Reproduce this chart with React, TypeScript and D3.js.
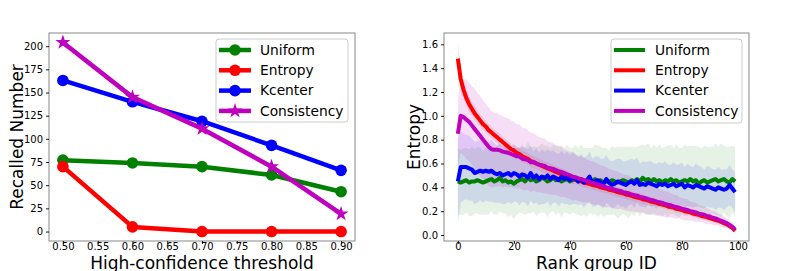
import React from 'react';
import * as d3 from 'd3';

// left panel: recalled number vs threshold
const thresholds = [0.5, 0.6, 0.7, 0.8, 0.9];
const recallUniform = [77, 74, 70, 61, 43];
const recallEntropy = [70, 5, 0, 0, 0];
const recallKcenter = [163, 140, 119, 93, 66];
const recallConsistency = [204, 145, 111, 70, 19];
const thresholdTicks = [0.5, 0.55, 0.6, 0.65, 0.7, 0.75, 0.8, 0.85, 0.9];
const recallTicks = [0, 25, 50, 75, 100, 125, 150, 175, 200];

// right panel: mean entropy per rank group (+ std band)
const uniformMean = [
  0.45, 0.44, 0.45, 0.46, 0.44, 0.45, 0.45, 0.46, 0.45, 0.44,
  0.45, 0.46, 0.47, 0.45, 0.46, 0.48, 0.45, 0.46, 0.44, 0.45,
  0.43, 0.45, 0.46, 0.47, 0.45, 0.48, 0.46, 0.47, 0.45, 0.46,
  0.48, 0.47, 0.45, 0.46, 0.48, 0.46, 0.47, 0.45, 0.46, 0.47,
  0.45, 0.46, 0.47, 0.45, 0.46, 0.45, 0.44, 0.46, 0.45, 0.47,
  0.45, 0.46, 0.44, 0.45, 0.44, 0.46, 0.45, 0.44, 0.45, 0.46,
  0.45, 0.44, 0.46, 0.45, 0.47, 0.45, 0.48, 0.46, 0.47, 0.45,
  0.47, 0.45, 0.46, 0.44, 0.46, 0.45, 0.47, 0.45, 0.46, 0.44,
  0.45, 0.46, 0.45, 0.47, 0.45, 0.46, 0.43, 0.45, 0.46, 0.44,
  0.45, 0.46, 0.47, 0.45, 0.46, 0.47, 0.45, 0.44, 0.47, 0.45,
];
const uniformStd = [
  0.28, 0.27, 0.28, 0.27, 0.28, 0.29, 0.27, 0.28, 0.28, 0.27,
  0.28, 0.29, 0.27, 0.28, 0.29, 0.28, 0.27, 0.28, 0.29, 0.28,
  0.30, 0.28, 0.27, 0.29, 0.28, 0.30, 0.28, 0.27, 0.29, 0.28,
  0.29, 0.28, 0.30, 0.27, 0.28, 0.29, 0.28, 0.30, 0.27, 0.29,
  0.28, 0.27, 0.29, 0.28, 0.30, 0.28, 0.29, 0.27, 0.28, 0.29,
  0.30, 0.28, 0.29, 0.28, 0.27, 0.29, 0.28, 0.30, 0.29, 0.28,
  0.29, 0.30, 0.28, 0.29, 0.27, 0.30, 0.28, 0.29, 0.30, 0.28,
  0.29, 0.28, 0.30, 0.29, 0.28, 0.30, 0.29, 0.28, 0.30, 0.29,
  0.28, 0.30, 0.29, 0.28, 0.30, 0.29, 0.31, 0.28, 0.29, 0.30,
  0.29, 0.28, 0.30, 0.29, 0.31, 0.28, 0.29, 0.30, 0.28, 0.29,
];
const entropyMean = [
  1.48, 1.31, 1.22, 1.15, 1.10, 1.06, 1.02, 0.99, 0.96, 0.93,
  0.91, 0.88, 0.86, 0.84, 0.82, 0.80, 0.78, 0.76, 0.74, 0.72,
  0.71, 0.69, 0.68, 0.66, 0.65, 0.64, 0.62, 0.61, 0.60, 0.59,
  0.58, 0.57, 0.56, 0.55, 0.54, 0.53, 0.52, 0.51, 0.50, 0.49,
  0.48, 0.47, 0.465, 0.46, 0.45, 0.44, 0.435, 0.43, 0.42, 0.415,
  0.41, 0.40, 0.395, 0.39, 0.38, 0.375, 0.37, 0.36, 0.355, 0.35,
  0.34, 0.335, 0.33, 0.32, 0.315, 0.31, 0.30, 0.295, 0.29, 0.28,
  0.275, 0.27, 0.26, 0.255, 0.25, 0.24, 0.235, 0.23, 0.22, 0.215,
  0.21, 0.20, 0.195, 0.19, 0.18, 0.175, 0.17, 0.16, 0.155, 0.15,
  0.14, 0.135, 0.125, 0.12, 0.11, 0.10, 0.09, 0.075, 0.06, 0.035,
];
const entropyStd = [
  0.14, 0.10, 0.08, 0.07, 0.07, 0.06, 0.06, 0.06, 0.05, 0.05,
  0.05, 0.05, 0.05, 0.05, 0.05, 0.05, 0.05, 0.05, 0.05, 0.05,
  0.05, 0.05, 0.05, 0.05, 0.05, 0.05, 0.05, 0.05, 0.05, 0.05,
  0.05, 0.05, 0.05, 0.05, 0.05, 0.05, 0.05, 0.05, 0.05, 0.05,
  0.04, 0.04, 0.04, 0.04, 0.04, 0.04, 0.04, 0.04, 0.04, 0.04,
  0.04, 0.04, 0.04, 0.04, 0.04, 0.04, 0.04, 0.04, 0.04, 0.04,
  0.04, 0.04, 0.04, 0.04, 0.04, 0.04, 0.04, 0.04, 0.04, 0.04,
  0.03, 0.03, 0.03, 0.03, 0.03, 0.03, 0.03, 0.03, 0.03, 0.03,
  0.03, 0.03, 0.03, 0.03, 0.03, 0.03, 0.03, 0.03, 0.03, 0.03,
  0.02, 0.02, 0.02, 0.02, 0.02, 0.02, 0.02, 0.02, 0.02, 0.02,
];
const kcenterMean = [
  0.45, 0.57, 0.57, 0.57, 0.56, 0.55, 0.52, 0.53, 0.54, 0.53,
  0.54, 0.53, 0.54, 0.52, 0.51, 0.52, 0.50, 0.51, 0.52, 0.50,
  0.52, 0.51, 0.49, 0.51, 0.50, 0.48, 0.52, 0.48, 0.50, 0.47,
  0.49, 0.48, 0.50, 0.47, 0.49, 0.48, 0.46, 0.49, 0.47, 0.48,
  0.46, 0.48, 0.47, 0.45, 0.47, 0.44, 0.46, 0.49, 0.44, 0.45,
  0.46, 0.44, 0.43, 0.47, 0.44, 0.42, 0.43, 0.45, 0.44, 0.43,
  0.42, 0.44, 0.45, 0.43, 0.46, 0.42, 0.43, 0.42, 0.44, 0.43,
  0.42, 0.41, 0.43, 0.42, 0.43, 0.41, 0.42, 0.43, 0.41, 0.42,
  0.43, 0.40, 0.42, 0.41, 0.40, 0.42, 0.41, 0.40, 0.39, 0.41,
  0.40, 0.39, 0.38, 0.40, 0.39, 0.38, 0.39, 0.42, 0.39, 0.36,
];
const kcenterStd = [
  0.36, 0.30, 0.28, 0.27, 0.27, 0.26, 0.26, 0.26, 0.25, 0.26,
  0.25, 0.25, 0.26, 0.25, 0.24, 0.25, 0.24, 0.25, 0.24, 0.24,
  0.24, 0.23, 0.24, 0.23, 0.23, 0.24, 0.23, 0.22, 0.23, 0.22,
  0.23, 0.22, 0.22, 0.23, 0.22, 0.21, 0.22, 0.22, 0.21, 0.22,
  0.21, 0.22, 0.21, 0.20, 0.21, 0.21, 0.20, 0.21, 0.20, 0.21,
  0.20, 0.20, 0.21, 0.20, 0.19, 0.20, 0.20, 0.19, 0.20, 0.19,
  0.20, 0.19, 0.19, 0.20, 0.19, 0.18, 0.19, 0.19, 0.18, 0.19,
  0.18, 0.19, 0.18, 0.18, 0.19, 0.18, 0.17, 0.18, 0.18, 0.17,
  0.18, 0.17, 0.18, 0.17, 0.17, 0.18, 0.17, 0.17, 0.16, 0.17,
  0.17, 0.16, 0.17, 0.17, 0.16, 0.17, 0.16, 0.17, 0.16, 0.17,
];
const consistencyMean = [
  0.85, 1.00, 0.99, 0.97, 0.95, 0.92, 0.89, 0.86, 0.83, 0.80,
  0.77, 0.74, 0.72, 0.715, 0.715, 0.71, 0.70, 0.695, 0.69, 0.68,
  0.67, 0.66, 0.66, 0.64, 0.635, 0.63, 0.61, 0.615, 0.60, 0.59,
  0.585, 0.58, 0.565, 0.56, 0.555, 0.545, 0.535, 0.53, 0.52, 0.51,
  0.50, 0.49, 0.485, 0.475, 0.47, 0.46, 0.455, 0.445, 0.44, 0.43,
  0.425, 0.415, 0.41, 0.40, 0.395, 0.39, 0.38, 0.375, 0.37, 0.36,
  0.355, 0.35, 0.34, 0.335, 0.33, 0.32, 0.315, 0.31, 0.30, 0.295,
  0.29, 0.28, 0.275, 0.27, 0.26, 0.255, 0.25, 0.24, 0.235, 0.23,
  0.22, 0.215, 0.21, 0.20, 0.195, 0.19, 0.18, 0.175, 0.17, 0.16,
  0.155, 0.145, 0.14, 0.13, 0.12, 0.11, 0.10, 0.085, 0.07, 0.045,
];
const consistencyStd = [
  0.28, 0.31, 0.32, 0.33, 0.33, 0.33, 0.34, 0.33, 0.34, 0.33,
  0.33, 0.33, 0.32, 0.31, 0.31, 0.30, 0.30, 0.29, 0.29, 0.28,
  0.28, 0.27, 0.27, 0.26, 0.26, 0.25, 0.25, 0.24, 0.24, 0.23,
  0.23, 0.23, 0.22, 0.22, 0.22, 0.21, 0.21, 0.21, 0.20, 0.20,
  0.20, 0.20, 0.19, 0.19, 0.19, 0.19, 0.18, 0.18, 0.18, 0.18,
  0.17, 0.17, 0.17, 0.17, 0.16, 0.16, 0.16, 0.16, 0.15, 0.15,
  0.15, 0.15, 0.14, 0.14, 0.14, 0.13, 0.13, 0.13, 0.13, 0.12,
  0.12, 0.12, 0.11, 0.11, 0.11, 0.11, 0.10, 0.10, 0.10, 0.09,
  0.09, 0.09, 0.09, 0.08, 0.08, 0.08, 0.07, 0.07, 0.07, 0.07,
  0.06, 0.06, 0.06, 0.05, 0.05, 0.05, 0.04, 0.04, 0.03, 0.02,
];
const rankTicks = [0, 20, 40, 60, 80, 100];
const entropyTicks = [0, 0.2, 0.4, 0.6, 0.8, 1.0, 1.2, 1.4, 1.6];

const methods = ['Uniform', 'Entropy', 'Kcenter', 'Consistency'];
const colors = ['#008000', '#ff0000', '#0000ff', '#bf00bf'];

const FONT = 'DejaVu Sans, sans-serif';
const top = 33, bottom = 241;

function styleAxis(node, axis) {
  if (!node) return;
  const g = d3.select(node);
  g.call(axis);
  g.select('.domain').remove();
  g.attr('font-family', FONT).attr('font-size', 10);
  g.selectAll('line').attr('stroke', '#000').attr('stroke-width', 0.9);
  g.selectAll('text').attr('fill', '#000');
}

const LeftChart = () => {
  const left = 49, right = 355;
  const x = d3.scaleLinear().domain([0.48, 0.92]).range([left, right]);
  const y = d3.scaleLinear().domain([-10.2, 214.2]).range([bottom, top]);
  const series = [recallUniform, recallEntropy, recallKcenter, recallConsistency];
  const line = d3.line<number>().x((_, i) => x(thresholds[i])).y((d) => y(d));
  const star = d3.symbol().type(d3.symbolStar).size(70);
  const dot = (c, cx, cy, k, isStar) =>
    isStar
      ? <path key={k} d={star()} transform={`translate(${cx},${cy})`} fill={c} />
      : <circle key={k} cx={cx} cy={cy} r={5.8} fill={c} />;

  return (
    <g>
      <rect x={left} y={top} width={right - left} height={bottom - top} fill="white" />
      {series.map((s, si) => (
        <g key={methods[si]}>
          <path d={line(s)} fill="none" stroke={colors[si]} strokeWidth={4.5} strokeLinejoin="round" />
          {s.map((v, i) => dot(colors[si], x(thresholds[i]), y(v), i, si === 3))}
        </g>
      ))}
      <rect x={left} y={top} width={right - left} height={bottom - top} fill="none" stroke="#888" strokeWidth={1} />
      <g transform={`translate(0,${bottom})`}
        ref={(n) => styleAxis(n, d3.axisBottom(x).tickValues(thresholdTicks).tickFormat(d3.format('.2f')).tickSize(3).tickPadding(-1))} />
      <g transform={`translate(${left},0)`}
        ref={(n) => styleAxis(n, d3.axisLeft(y).tickValues(recallTicks).tickSize(3).tickPadding(3))} />
      <text x={(left + right) / 2} y={268.5} textAnchor="middle" fontFamily={FONT} fontSize={17}>High-confidence threshold</text>
      <text transform={`translate(22.5,${(top + bottom) / 2}) rotate(-90)`} textAnchor="middle" fontFamily={FONT} fontSize={17}>Recalled Number</text>
      <rect x={216} y={39} width={132} height={83} rx={3} fill="white" fillOpacity={0.8} stroke="#ccc" />
      {methods.map((m, i) => (
        <g key={m} transform={`translate(0,${50 + i * 20.3})`}>
          <line x1={219} x2={251} stroke={colors[i]} strokeWidth={4.5} />
          {dot(colors[i], 235, 0, 'm', i === 3)}
          <text x={260} y={0} dy="0.35em" fontFamily={FONT} fontSize={13.8}>{m}</text>
        </g>
      ))}
    </g>
  );
};

const RightChart = () => {
  const left = 444, right = 749;
  const x = d3.scaleLinear().domain([-4.95, 103.95]).range([left, right]);
  const y = d3.scaleLinear().domain([-0.05, 1.695]).range([bottom, top]);
  const means = [uniformMean, entropyMean, kcenterMean, consistencyMean];
  const stds = [uniformStd, entropyStd, kcenterStd, consistencyStd];
  const line = d3.line<number>().x((_, i) => x(i)).y((d) => y(d));

  return (
    <g>
      <rect x={left} y={top} width={right - left} height={bottom - top} fill="white" />
      {means.map((m, si) => {
        const area = d3.area<number>()
          .x((_, i) => x(i))
          .y0((d, i) => y(d - stds[si][i]))
          .y1((d, i) => y(d + stds[si][i]));
        return <path key={`a${si}`} d={area(m)} fill={colors[si]} fillOpacity={si === 3 ? 0.13 : 0.1} />;
      })}
      {means.map((m, si) => (
        <path key={`l${si}`} d={line(m)} fill="none" stroke={colors[si]} strokeWidth={4} strokeLinejoin="round" />
      ))}
      <rect x={left} y={top} width={right - left} height={bottom - top} fill="none" stroke="#888" strokeWidth={1} />
      <g transform={`translate(0,${bottom})`}
        ref={(n) => styleAxis(n, d3.axisBottom(x).tickValues(rankTicks).tickFormat(d3.format('d')).tickSize(3).tickPadding(-1))} />
      <g transform={`translate(${left},0)`}
        ref={(n) => styleAxis(n, d3.axisLeft(y).tickValues(entropyTicks).tickFormat(d3.format('.1f')).tickSize(3).tickPadding(3))} />
      <text x={(left + right) / 2} y={268.5} textAnchor="middle" fontFamily={FONT} fontSize={17}>Rank group ID</text>
      <text transform={`translate(420,${(top + bottom) / 2}) rotate(-90)`} textAnchor="middle" fontFamily={FONT} fontSize={17}>Entropy</text>
      <rect x={611} y={39} width={131} height={84} rx={3} fill="white" fillOpacity={0.8} stroke="#ccc" />
      {methods.map((m, i) => (
        <g key={m} transform={`translate(0,${50 + i * 20.3})`}>
          <line x1={614} x2={645} stroke={colors[i]} strokeWidth={4} />
          <text x={655} y={0} dy="0.35em" fontFamily={FONT} fontSize={13.8}>{m}</text>
        </g>
      ))}
    </g>
  );
};

export default function App() {
  return (
    <svg width={789} height={271} style={{ position: 'absolute', left: 0, top: 0, background: 'white' }}>
      <LeftChart />
      <RightChart />
    </svg>
  );
}
